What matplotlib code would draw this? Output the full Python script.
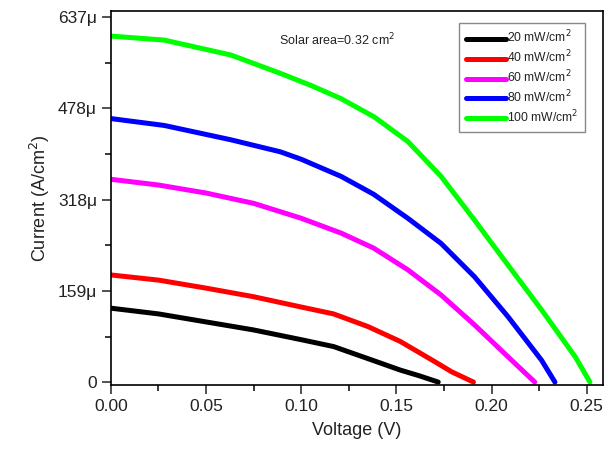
import matplotlib
matplotlib.use("Agg")
import matplotlib.pyplot as plt
import numpy as np
from matplotlib.ticker import FixedLocator, MultipleLocator

plt.rcParams['font.family'] = ['Liberation Sans', 'DejaVu Sans']

# voltage (V) and current density (uA/cm2)
v20 = [0, 0.025, 0.05, 0.075, 0.10, 0.117, 0.135, 0.152, 0.162, 0.172]
i20 = [129, 119, 105, 91, 74, 62, 41, 21, 11, 0]

v40 = [0, 0.025, 0.05, 0.075, 0.10, 0.117, 0.135, 0.152, 0.17, 0.179, 0.1905]
i40 = [187, 178, 164, 149, 131, 119, 97, 71, 36, 18, 0]

v60 = [0, 0.025, 0.05, 0.075, 0.10, 0.121, 0.138, 0.156, 0.1735, 0.191, 0.2087, 0.2227]
i60 = [354, 344, 330, 312, 286, 260, 234, 196, 152, 100, 44, 0]

v80 = [0, 0.028, 0.063, 0.089, 0.10, 0.121, 0.138, 0.156, 0.1735, 0.191, 0.2087, 0.2263, 0.2333]
i80 = [460, 448, 423, 402, 389, 359, 328, 286, 242, 184, 114, 38, 0]

v100 = [0, 0.028, 0.063, 0.089, 0.105, 0.1208, 0.1383, 0.156, 0.1735, 0.191, 0.2087, 0.2263, 0.244, 0.2517]
i100 = [604, 597, 571, 539, 518, 495, 463, 420, 359, 283, 204, 126, 44, 0]

labels = ['20 mW/cm$^2$', '40 mW/cm$^2$', '60 mW/cm$^2$', '80 mW/cm$^2$', '100 mW/cm$^2$']
colors = ['black', 'red', '#ff00ff', 'blue', '#00ff00']

ytick_vals = [0, 159, 318, 478, 637]
ytick_text = ['0', '159\u03bc', '318\u03bc', '478\u03bc', '637\u03bc']

fig = plt.figure(figsize=(6.16, 4.53), dpi=100)
ax = fig.add_axes([0.180, 0.150, 0.799, 0.826])

series = [(v20, i20), (v40, i40), (v60, i60), (v80, i80), (v100, i100)]
for (v, i), lab, c in zip(series, labels, colors):
    ax.plot(v, np.array(i) * 1e-6, color=c, lw=3.6, label=lab,
            solid_capstyle='round', solid_joinstyle='round')

ax.set_xlim(0, 0.2586)
ax.set_ylim(-5.2e-6, 648e-6)

ax.xaxis.set_major_locator(MultipleLocator(0.05))
ax.xaxis.set_minor_locator(MultipleLocator(0.025))
ax.xaxis.set_major_formatter(matplotlib.ticker.FormatStrFormatter('%.2f'))
ax.yaxis.set_major_locator(FixedLocator([t * 1e-6 for t in ytick_vals]))
ax.set_yticklabels(ytick_text)
mids = [(a + b) / 2 * 1e-6 for a, b in zip(ytick_vals[:-1], ytick_vals[1:])]
ax.yaxis.set_minor_locator(FixedLocator(mids))

ax.tick_params(which='major', direction='out', length=6.5, width=1.1, labelsize=12.5, colors='#222222')
ax.tick_params(which='minor', direction='out', length=4, width=1.1)
ax.tick_params(top=False, right=False)
for s in ax.spines.values():
    s.set_linewidth(1.2)

ax.set_xlabel('Voltage (V)', fontsize=13, color='#222222', labelpad=6)
ax.set_ylabel('Current (A/cm$^2$)', fontsize=13, color='#222222', labelpad=4)

ax.text(0.0885, 597e-6, 'Solar area=0.32 cm$^2$', fontsize=9, color='#222222', va='center')

leg = ax.legend(loc='upper right', fontsize=8.7, handlelength=3.3, handletextpad=0.1,
                labelspacing=0.28, borderpad=0.55, fancybox=False, framealpha=1,
                edgecolor='#888888', bbox_to_anchor=(0.975, 0.985))
leg.get_frame().set_linewidth(1.0)
for t in leg.get_texts():
    t.set_color('#222222')

fig.savefig('out.png', dpi=100)
